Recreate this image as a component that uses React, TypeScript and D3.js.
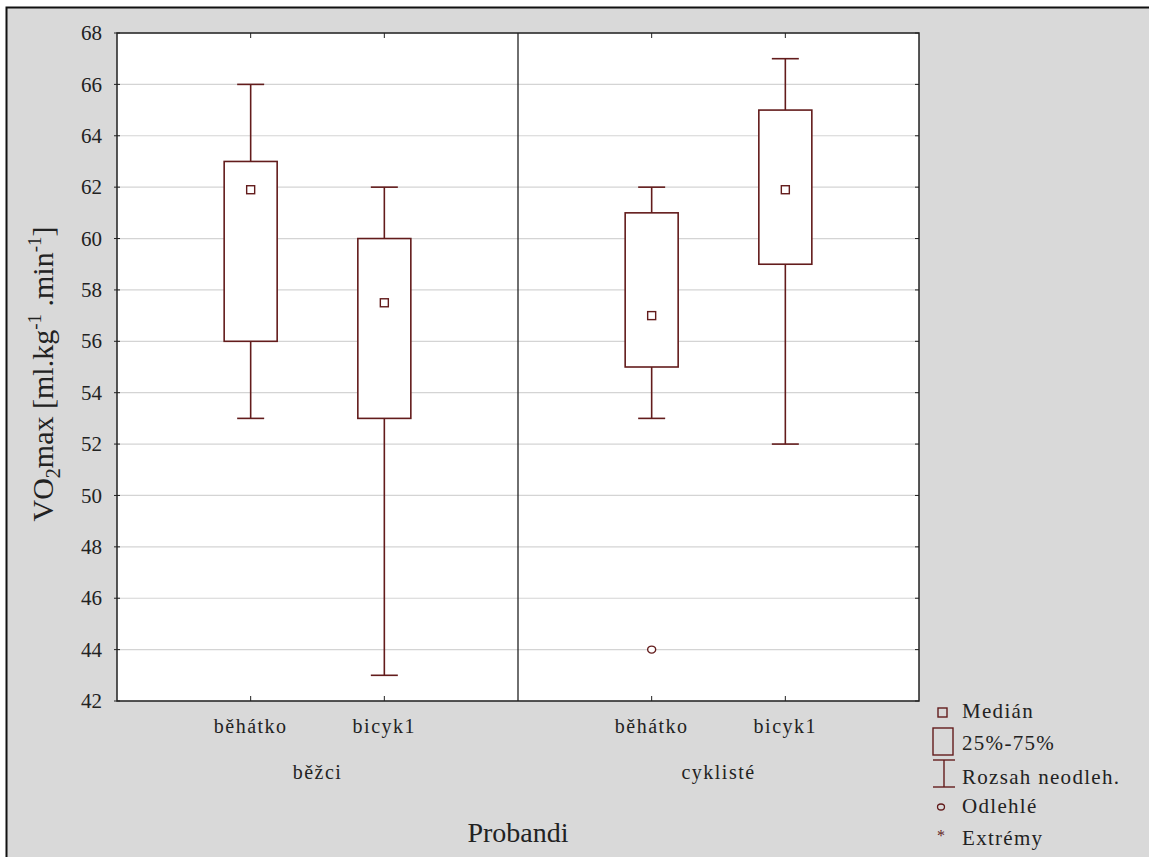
import * as d3 from 'd3';

const groups = ['běžci', 'cyklisté'];
const conditions = ['běhátko', 'bicyk1'];
// one entry per group x condition, in order
const medians = [61.9, 57.5, 57.0, 61.9];
const q1 = [56, 53, 55, 59];
const q3 = [63, 60, 61, 65];
const whiskLo = [53, 43, 53, 52];
const whiskHi = [66, 62, 62, 67];
const outliers = [[], [], [44], []];
const yTicks = d3.range(42, 69, 2);
const legendItems = ['Medián', '25%-75%', 'Rozsah neodleh.', 'Odlehlé', 'Extrémy'];

const W = 1149;
const H = 857;
const M = { left: 117, top: 33, right: 919, bottom: 701 };
const ink = '#631c1c';
const font = "'Times New Roman', 'Liberation Serif', Times, serif";

const App = () => {
  const y = d3.scaleLinear().domain([42, 68]).range([M.bottom, M.top]);
  const outer = d3.scaleBand().domain(groups).range([M.left, M.right]);
  const inner = d3.scalePoint().domain(['', ...conditions, ' ']).range([0, outer.bandwidth()]);

  const boxes = groups.flatMap((g, gi) =>
    conditions.map((c, ci) => {
      const i = gi * conditions.length + ci;
      return {
        key: g + c,
        label: c,
        cx: (outer(g) ?? 0) + (inner(c) ?? 0),
        med: medians[i],
        lo: q1[i],
        hi: q3[i],
        wl: whiskLo[i],
        wh: whiskHi[i],
        out: outliers[i],
      };
    })
  );

  const bw = 53;
  const cap = 27;

  return (
    <svg width={W} height={H} style={{ display: 'block', position: 'absolute', left: 0, top: 0, fontFamily: font }}>
      <rect x={0} y={0} width={W} height={H} fill="#ffffff" />
      <rect x={6.5} y={7.5} width={W + 10} height={H + 10} fill="#d9d9d9" stroke="#111" strokeWidth={2} />
      <rect x={M.left} y={M.top} width={M.right - M.left} height={M.bottom - M.top} fill="#fff" />

      {yTicks.map(t => (
        <g key={t}>
          <line x1={M.left} x2={M.right} y1={y(t)} y2={y(t)} stroke="#d4d4d4" strokeWidth={1.2} />
          <line x1={M.left - 3} x2={M.left + 3} y1={y(t)} y2={y(t)} stroke="#222" />
          <line x1={M.right - 4} x2={M.right} y1={y(t)} y2={y(t)} stroke="#222" />
          <text x={102} y={y(t)} dy="0.34em" textAnchor="end" fontSize={21} fill="#222">
            {t}
          </text>
        </g>
      ))}

      <line x1={outer(groups[1]) ?? 0} x2={outer(groups[1]) ?? 0} y1={M.top} y2={M.bottom} stroke="#222" strokeWidth={1.3} />

      {boxes.map(b => (
        <g key={b.key}>
          <line x1={b.cx} x2={b.cx} y1={M.bottom} y2={M.bottom - 5} stroke="#222" />
          <line x1={b.cx} x2={b.cx} y1={M.top} y2={M.top + 5} stroke="#222" />
          <line x1={b.cx} x2={b.cx} y1={y(b.wh)} y2={y(b.hi)} stroke={ink} strokeWidth={1.6} />
          <line x1={b.cx} x2={b.cx} y1={y(b.lo)} y2={y(b.wl)} stroke={ink} strokeWidth={1.6} />
          <line x1={b.cx - cap / 2} x2={b.cx + cap / 2} y1={y(b.wh)} y2={y(b.wh)} stroke={ink} strokeWidth={1.6} />
          <line x1={b.cx - cap / 2} x2={b.cx + cap / 2} y1={y(b.wl)} y2={y(b.wl)} stroke={ink} strokeWidth={1.6} />
          <rect x={b.cx - bw / 2} y={y(b.hi)} width={bw} height={y(b.lo) - y(b.hi)} fill="#fff" stroke={ink} strokeWidth={1.6} />
          <rect x={b.cx - 4} y={y(b.med) - 4} width={8} height={8} fill="#fff" stroke={ink} strokeWidth={1.4} />
          {b.out.map(o => (
            <ellipse key={o} cx={b.cx} cy={y(o)} rx={4} ry={3.5} fill="#fff" stroke={ink} strokeWidth={1.4} />
          ))}
          <text x={b.cx} y={733} textAnchor="middle" fontSize={20} letterSpacing={1.5} fill="#222">
            {b.label}
          </text>
        </g>
      ))}

      {groups.map(g => (
        <text key={g} x={(outer(g) ?? 0) + outer.bandwidth() / 2} y={779} textAnchor="middle" fontSize={20} letterSpacing={1.5} fill="#222">
          {g}
        </text>
      ))}

      <rect x={M.left} y={M.top} width={M.right - M.left} height={M.bottom - M.top} fill="none" stroke="#222" strokeWidth={1.5} />

      <text x={(M.left + M.right) / 2} y={842} textAnchor="middle" fontSize={28} fill="#222">
        Probandi
      </text>
      <text transform={`translate(53,${374}) rotate(-90)`} textAnchor="middle" fontSize={30} fill="#222">
        VO<tspan fontSize={20} dy={7}>2</tspan>
        <tspan dy={-7}>max [ml.kg</tspan>
        <tspan fontSize={19} dy={-12}>-1</tspan>
        <tspan dy={12}> .min</tspan>
        <tspan fontSize={19} dy={-12}>-1</tspan>
        <tspan dy={12}>]</tspan>
      </text>

      <g fontSize={21} letterSpacing={1.3} fill="#222">
        <rect x={938} y={708} width={9} height={9} fill="none" stroke={ink} strokeWidth={1.4} />
        <rect x={933} y={728} width={20} height={27} fill="none" stroke={ink} strokeWidth={1.4} />
        <line x1={933} x2={955} y1={760} y2={760} stroke={ink} strokeWidth={1.4} />
        <line x1={944} x2={944} y1={760} y2={787} stroke={ink} strokeWidth={1.4} />
        <line x1={933} x2={955} y1={787} y2={787} stroke={ink} strokeWidth={1.4} />
        <ellipse cx={941} cy={807} rx={3.5} ry={3} fill="none" stroke={ink} strokeWidth={1.3} />
        <text x={941} y={841} textAnchor="middle" fontSize={16} letterSpacing={0} fill={ink}>*</text>
        {legendItems.map((d, i) => (
          <text key={d} x={962} y={[718, 750, 784, 813, 845][i]}>
            {d}
          </text>
        ))}
      </g>
    </svg>
  );
};

export default App;
